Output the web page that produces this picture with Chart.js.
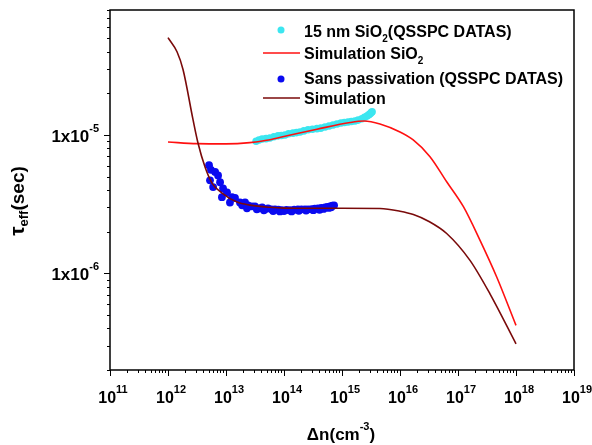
<!DOCTYPE html>
<html><head><meta charset="utf-8">
<script src="https://cdn.jsdelivr.net/npm/chart.js@4/dist/chart.umd.min.js"></script>
<style>html,body{margin:0;padding:0;background:#fff}canvas{display:block}</style>
</head><body>
<canvas id="c" width="592" height="445" style="width:592px;height:445px"></canvas>
<script>
// ---- data ----
const sio2DataX = [3.3e13,3.7e13,4.2e13,4.9e13,5.7e13,6.7e13,7.9e13,9.0e13,1.04e14,1.2e14,1.43e14,1.65e14,1.89e14,2.2e14,2.6e14,3.1e14,3.7e14,4.3e14,5.1e14,6.0e14,7.0e14,8.2e14,9.6e14,1.1e15,1.27e15,1.45e15,1.67e15,1.9e15,2.2e15,2.45e15,2.7e15,2.9e15,3.05e15,3.2e15,3.3e15];
const sio2DataY = [9.0e-6,9.2e-6,9.35e-6,9.4e-6,9.5e-6,9.7e-6,9.85e-6,9.9e-6,1.0e-5,1.02e-5,1.03e-5,1.04e-5,1.05e-5,1.07e-5,1.09e-5,1.1e-5,1.11e-5,1.12e-5,1.14e-5,1.16e-5,1.18e-5,1.2e-5,1.22e-5,1.23e-5,1.24e-5,1.25e-5,1.26e-5,1.28e-5,1.31e-5,1.34e-5,1.37e-5,1.40e-5,1.42e-5,1.45e-5,1.47e-5];

const simSiO2X = [1e12,3.16e12,1e13,2.57e13,5e13,9.5e13,3.7e14,1.38e15,2.4e15,4.52e15,1e16,1.69e16,3.29e16,6.38e16,1.24e17,2.4e17,4.65e17,1e18];
const simSiO2Y = [8.9e-6,8.65e-6,8.62e-6,8.8e-6,9.15e-6,9.7e-6,1.1e-5,1.23e-5,1.26e-5,1.2e-5,1.05e-5,9.2e-6,6.97e-6,4.59e-6,3.03e-6,1.73e-6,9.4e-7,4.2e-7];

const bareDataX = [5.1e12,5.5e12,6.5e12,7.3e12,5.3e12,7.9e12,6.0e12,8.9e12,1.04e13,8.5e12,1.27e13,1.43e13,1.17e13,1.74e13,2.13e13,2.4e13,1.9e13,2.8e13,3.16e13,3.7e13,4.2e13,4.7e13,5.3e13,6.1e13,7.0e13,8.0e13,9.2e13,1.1e14,1.27e14,1.5e14,1.74e14,2.0e14,2.3e14,2.6e14,3.0e14,3.4e14,3.85e14,4.4e14,5.1e14,5.6e14,6.2e14,6.8e14,7.3e14,
  2.3e13,3.4e13,4.5e13,6.5e13,8.5e13,1.0e14,1.35e14,1.8e14,2.4e14,3.2e14,4.1e14,4.8e14,5.9e14,6.5e14];
const bareDataY = [6.05e-6,5.6e-6,5.4e-6,5.1e-6,4.7e-6,4.55e-6,4.2e-6,4.1e-6,3.85e-6,3.55e-6,3.55e-6,3.5e-6,3.25e-6,3.25e-6,3.25e-6,3.1e-6,3.1e-6,3.05e-6,3.05e-6,2.95e-6,3.0e-6,2.9e-6,2.95e-6,2.9e-6,2.9e-6,2.88e-6,2.86e-6,2.87e-6,2.86e-6,2.88e-6,2.9e-6,2.9e-6,2.9e-6,2.9e-6,2.91e-6,2.93e-6,2.95e-6,2.97e-6,3.0e-6,3.02e-6,3.05e-6,3.08e-6,3.1e-6,
  2.95e-6,2.9e-6,2.85e-6,2.82e-6,2.8e-6,2.82e-6,2.8e-6,2.83e-6,2.84e-6,2.86e-6,2.88e-6,2.92e-6,2.97e-6,3.0e-6];

const simBareX = [1e12,1.43e12,1.82e12,2.7e12,3.29e12,4.35e12,5.74e12,8.53e12,1.55e13,2.59e13,5.62e13,1e14,3.16e14,1e15,4.52e15,1e16,1.7e16,3.16e16,6.38e16,1.61e17,3.56e17,1e18];
const simBareY = [5.05e-5,3.99e-5,2.96e-5,1.29e-5,8.75e-6,5.86e-6,4.49e-6,3.8e-6,3.27e-6,3.11e-6,3.0e-6,2.96e-6,2.95e-6,2.95e-6,2.94e-6,2.81e-6,2.66e-6,2.37e-6,1.94e-6,1.24e-6,7.1e-7,3.09e-7];

const xTickExponents = [11,12,13,14,15,16,17,18,19];
const yTickExponents = [-5,-6];
const xTitle = ['Δn(cm', '-3', ')'];
const yTitle = ['τ', 'eff', '(sec)'];
const legendLabels = [
  [['15 nm SiO',0],['2',1],['(QSSPC DATAS)',0]],
  [['Simulation SiO',0],['2',1]],
  [['Sans passivation (QSSPC DATAS)',0]],
  [['Simulation',0]]
];

const pts = (xs, ys) => xs.map((x, i) => ({x, y: ys[i]}));
const FONT = '"Liberation Sans", Arial, sans-serif';
function setF(ctx, s){ ctx.font = 'bold ' + s + 'px ' + FONT; }
function richW(ctx, parts){ let w=0; for(const p of parts){ setF(ctx,p.s); w+=ctx.measureText(p.t).width; } return w; }
function drawRich(ctx, parts, x, y){ for(const p of parts){ setF(ctx,p.s); ctx.fillText(p.t, x, y+(p.dy||0)); x+=ctx.measureText(p.t).width; } }

const axesPlugin = {
  id: 'customAxes',
  afterDraw(chart){
    const ctx = chart.ctx, a = chart.chartArea, xs = chart.scales.x, ys = chart.scales.y;
    ctx.save();
    ctx.fillStyle = '#000'; ctx.strokeStyle = '#000';
    ctx.textAlign = 'left'; ctx.textBaseline = 'alphabetic';
    ctx.lineWidth = 1.5;
    ctx.strokeRect(a.left, a.top, a.right - a.left, a.bottom - a.top);
    ctx.lineWidth = 1;
    ctx.beginPath();
    for (const e of xTickExponents){
      for (let m = 1; m <= 9; m++){
        const v = m * Math.pow(10, e);
        if (v > xs.max * 1.0001) break;
        const px = Math.round(xs.getPixelForValue(v)) + 0.5;
        ctx.moveTo(px, a.bottom); ctx.lineTo(px, a.bottom + (m === 1 ? 6 : 3));
      }
    }
    for (let e = -7; e <= -5; e++){
      for (let m = 1; m <= 9; m++){
        const v = m * Math.pow(10, e);
        if (v < ys.min * 0.9999 || v > ys.max * 1.0001) continue;
        const py = Math.round(ys.getPixelForValue(v)) + 0.5;
        ctx.moveTo(a.left, py); ctx.lineTo(a.left - (m === 1 ? 6 : 3), py);
      }
    }
    ctx.stroke();
    for (const e of xTickExponents){
      const px = xs.getPixelForValue(Math.pow(10, e));
      const parts = [{t:'10', s:16}, {t:String(e), s:11, dy:-10}];
      const w = richW(ctx, parts);
      drawRich(ctx, parts, px - w/2 + 3, a.bottom + 33);
    }
    for (const e of yTickExponents){
      const py = ys.getPixelForValue(Math.pow(10, e));
      const parts = [{t:'1x10', s:17}, {t:String(e), s:11, dy:-10}];
      const w = richW(ctx, parts);
      drawRich(ctx, parts, 99 - w, py + 7);
    }
    {
      const parts = [{t:xTitle[0], s:17}, {t:xTitle[1], s:11, dy:-10}, {t:xTitle[2], s:17}];
      const w = richW(ctx, parts);
      drawRich(ctx, parts, 341 - w/2, 440);
    }
    {
      ctx.save();
      ctx.translate(24, 201);
      ctx.rotate(-Math.PI/2);
      const parts = [{t:yTitle[0], s:21}, {t:yTitle[1], s:13, dy:4}, {t:yTitle[2], s:19}];
      const w = richW(ctx, parts);
      drawRich(ctx, parts, -w/2, 0);
      ctx.restore();
    }
    const ds = chart.data.datasets;
    const baselines = [37, 59, 84, 104];
    const markY = [30, 53, 79, 98];
    ds.forEach((d) => {
      const li = d.legendIndex;
      if (d.showLine){
        ctx.strokeStyle = d.borderColor; ctx.lineWidth = 1.5;
        ctx.beginPath(); ctx.moveTo(263, markY[li]); ctx.lineTo(300, markY[li]); ctx.stroke();
      } else {
        ctx.fillStyle = d.backgroundColor;
        ctx.beginPath(); ctx.arc(281, markY[li], 3.5, 0, Math.PI*2); ctx.fill();
      }
      ctx.fillStyle = '#000';
      const parts = legendLabels[li].map(([t, sub]) => sub ? {t, s:10, dy:5} : {t, s:16});
      drawRich(ctx, parts, 304, baselines[li]);
    });
    ctx.restore();
  }
};

new Chart(document.getElementById('c'), {
  type: 'scatter',
  data: {
    datasets: [
      { legendIndex: 0, data: pts(sio2DataX, sio2DataY), showLine: false, backgroundColor: '#3CE6F0', borderWidth: 0, pointRadius: 3.8, order: 2 },
      { legendIndex: 2, data: pts(bareDataX, bareDataY), showLine: false, backgroundColor: '#0A0AF0', borderWidth: 0, pointRadius: 3.9, order: 2 },
      { legendIndex: 1, data: pts(simSiO2X, simSiO2Y), showLine: true, borderColor: '#FF1010', borderWidth: 1.6, pointRadius: 0, cubicInterpolationMode: 'monotone', order: 1 },
      { legendIndex: 3, data: pts(simBareX, simBareY), showLine: true, borderColor: '#7A0A0A', borderWidth: 1.6, pointRadius: 0, cubicInterpolationMode: 'monotone', order: 0 }
    ]
  },
  options: {
    responsive: false, animation: false, devicePixelRatio: 1,
    layout: { padding: { left: 110, right: 18, top: 10, bottom: 75 } },
    plugins: { legend: { display: false }, tooltip: { enabled: false } },
    scales: {
      x: { type: 'logarithmic', min: 1e11, max: 1e19, display: false },
      y: { type: 'logarithmic', min: 2e-7, max: 8e-5, display: false }
    }
  },
  plugins: [axesPlugin]
});
</script>
</body></html>
